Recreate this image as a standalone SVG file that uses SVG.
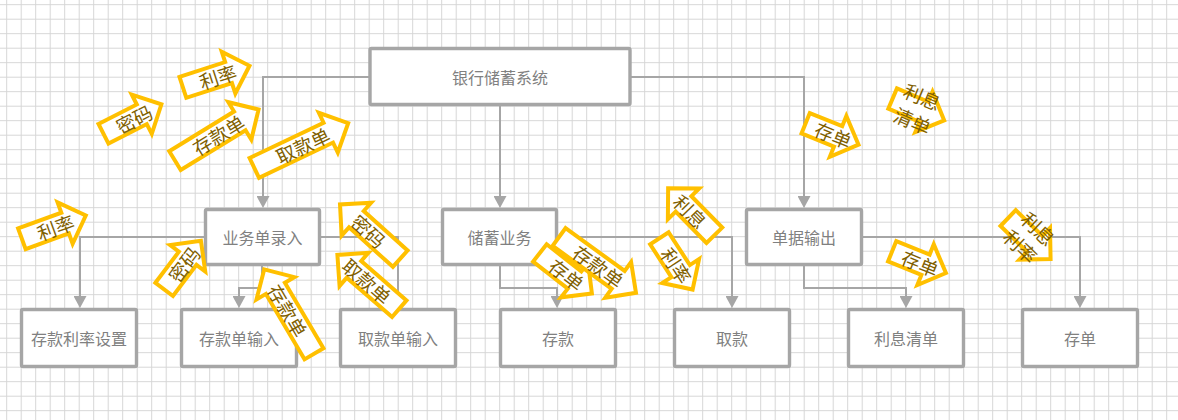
<svg xmlns="http://www.w3.org/2000/svg" width="1178" height="420" viewBox="0 0 1178 420">
<defs>
<pattern id="grid" width="14.5" height="14.5" patternUnits="userSpaceOnUse" x="6.2" y="4.2">
<path d="M0.5,0 V14.5 M0,0.5 H14.5" stroke="#d6d6d6" stroke-width="1" fill="none"/>
</pattern>
<marker id="ah" markerUnits="userSpaceOnUse" markerWidth="13" markerHeight="13" refX="0" refY="6.5" orient="auto">
<path d="M0,0 L12,6.5 L0,13 z" fill="#a6a6a6"/>
</marker>
<style>
.box{fill:#fff;stroke:#a6a6a6;stroke-width:3.4}
.bt{font-family:"Noto Sans CJK SC","Liberation Sans",sans-serif;font-size:16px;fill:#808080;text-anchor:middle;dominant-baseline:central}
.con{fill:none;stroke:#a6a6a6;stroke-width:2;marker-end:url(#ah)}
.ya{fill:#fff;stroke:#ffc000;stroke-width:4;stroke-linejoin:miter}
.yt{font-family:"Noto Sans CJK SC","Liberation Sans",sans-serif;font-size:19px;fill:#7f6000;text-anchor:middle;dominant-baseline:central}
</style>
</defs>
<rect width="1178" height="420" fill="#fff"/>
<rect width="1178" height="420" fill="url(#grid)"/>

<g id="connectors">
<path class="con" d="M369,77 H263 V196"/>
<path class="con" d="M500,105 V196"/>
<path class="con" d="M631,77 H804 V196"/>
<path class="con" d="M204,237 H80 V296"/>
<path class="con" d="M262,266 V288 H239 V296"/>
<path class="con" d="M321,237 H398 V296"/>
<path class="con" d="M500,266 V288 H557 V296"/>
<path class="con" d="M558,237 H732 V296"/>
<path class="con" d="M804,266 V288 H906 V296"/>
<path class="con" d="M863,237 H1080 V296"/>
</g>

<g id="n-root"><rect class="box" x="370" y="48.5" width="260" height="56" rx="1.5"/><text class="bt" x="500" y="76.5">银行储蓄系统</text></g>
<g id="n-ywd"><rect class="box" x="205.5" y="209.5" width="114" height="55" rx="1.5"/><text class="bt" x="262.5" y="237">业务单录入</text></g>
<g id="n-cxyw"><rect class="box" x="442.5" y="209.5" width="114" height="55" rx="1.5"/><text class="bt" x="499.5" y="237">储蓄业务</text></g>
<g id="n-djsc"><rect class="box" x="746.5" y="209.5" width="115" height="55" rx="1.5"/><text class="bt" x="804" y="237">单据输出</text></g>
<g id="n-ckllsz"><rect class="box" x="21.5" y="309.5" width="115" height="57" rx="1.5"/><text class="bt" x="79" y="338">存款利率设置</text></g>
<g id="n-ckdsr"><rect class="box" x="181.5" y="309.5" width="115" height="57" rx="1.5"/><text class="bt" x="239" y="338">存款单输入</text></g>
<g id="n-qkdsr"><rect class="box" x="340.5" y="309.5" width="115" height="57" rx="1.5"/><text class="bt" x="398" y="338">取款单输入</text></g>
<g id="n-ck"><rect class="box" x="500.5" y="309.5" width="115" height="57" rx="1.5"/><text class="bt" x="558" y="338">存款</text></g>
<g id="n-qk"><rect class="box" x="674.5" y="309.5" width="115" height="57" rx="1.5"/><text class="bt" x="732" y="338">取款</text></g>
<g id="n-lxqd"><rect class="box" x="848.5" y="309.5" width="115" height="57" rx="1.5"/><text class="bt" x="906" y="338">利息清单</text></g>
<g id="n-cd"><rect class="box" x="1022.5" y="309.5" width="115" height="57" rx="1.5"/><text class="bt" x="1080" y="338">存单</text></g>

<g id="flow-1" transform="translate(101.7,134.7) rotate(-27)"><polygon class="ya" points="2,-11 45,-11 45,-22 67,0 45,22 45,11 2,11"/><text class="yt" x="36" y="0">密码</text></g>
<g id="flow-2" transform="translate(181,88) rotate(-18)"><polygon class="ya" points="2,-11 50,-11 50,-22 72,0 50,22 50,11 2,11"/><text class="yt" x="38.5" y="0">利率</text></g>
<g id="flow-3" transform="translate(173.3,161.7) rotate(-31.5)"><polygon class="ya" points="2,-11 78,-11 78,-22 100,0 78,22 78,11 2,11"/><text class="yt" x="52.5" y="0">存款单</text></g>
<g id="flow-4" transform="translate(252.5,168.8) rotate(-25.5)"><polygon class="ya" points="2,-11 84,-11 84,-22 106,0 84,22 84,11 2,11"/><text class="yt" x="55.5" y="0">取款单</text></g>
<g id="flow-5" transform="translate(20,239.5) rotate(-20)"><polygon class="ya" points="2,-11 48,-11 48,-22 70,0 48,22 48,11 2,11"/><text class="yt" x="37.5" y="0">利率</text></g>
<g id="flow-6" transform="translate(163,291) rotate(-53)"><polygon class="ya" points="2,-11 41,-11 41,-22 63,0 41,22 41,11 2,11"/><text class="yt" x="34" y="0">密码</text></g>
<g id="flow-7" transform="translate(315,355.5) rotate(-120.5)"><polygon class="ya" points="2,-11 78,-11 78,-22 100,0 78,22 78,11 2,11"/><text class="yt" transform="translate(52.5,0) rotate(180)">存款单</text></g>
<g id="flow-8" transform="translate(401.7,260) rotate(-138)"><polygon class="ya" points="2,-11 61,-11 61,-22 83,0 61,22 61,11 2,11"/><text class="yt" transform="translate(44,0) rotate(180)">密码</text></g>
<g id="flow-9" transform="translate(400.8,310) rotate(-139)"><polygon class="ya" points="2,-11 62,-11 62,-22 84,0 62,22 62,11 2,11"/><text class="yt" transform="translate(44.5,0) rotate(180)">取款单</text></g>
<g id="flow-10" transform="translate(538.3,251.7) rotate(38)"><polygon class="ya" points="2,-11 46,-11 46,-22 68,0 46,22 46,11 2,11"/><text class="yt" x="36.5" y="0">存单</text></g>
<g id="flow-11" transform="translate(557.5,235.8) rotate(36)"><polygon class="ya" points="2,-11 75,-11 75,-22 97,0 75,22 75,11 2,11"/><text class="yt" x="51" y="0">存款单</text></g>
<g id="flow-12" transform="translate(715.8,236.7) rotate(-134.5)"><polygon class="ya" points="2,-11 46,-11 46,-22 68,0 46,22 46,11 2,11"/><text class="yt" transform="translate(36,0) rotate(180)">利息</text></g>
<g id="flow-13" transform="translate(658.3,236.7) rotate(57)"><polygon class="ya" points="2,-11 41,-11 41,-22 63,0 41,22 41,11 2,11"/><text class="yt" x="34" y="0">利率</text></g>
<g id="flow-14" transform="translate(803.8,122.5) rotate(22)"><polygon class="ya" points="2,-11 37,-11 37,-22 59,0 37,22 37,11 2,11"/><text class="yt" x="32" y="0">存单</text></g>
<g id="flow-15" transform="translate(890.8,97.8) rotate(23)"><polygon class="ya" points="2,-11 36,-11 36,-22 58,0 36,22 36,11 2,11"/><text class="yt" x="28.5" y="-14">利息</text><text class="yt" x="29" y="12">清单</text></g>
<g id="flow-16" transform="translate(890.3,250.5) rotate(22)"><polygon class="ya" points="2,-11 38,-11 38,-22 60,0 38,22 38,11 2,11"/><text class="yt" x="32.5" y="0">存单</text></g>
<g id="flow-17" transform="translate(1006.7,216.7) rotate(44)"><polygon class="ya" points="2,-11 39,-11 39,-22 61,0 39,22 39,11 2,11"/><text class="yt" x="31" y="-14">利息</text><text class="yt" x="30.5" y="11">利率</text></g>
</svg>
